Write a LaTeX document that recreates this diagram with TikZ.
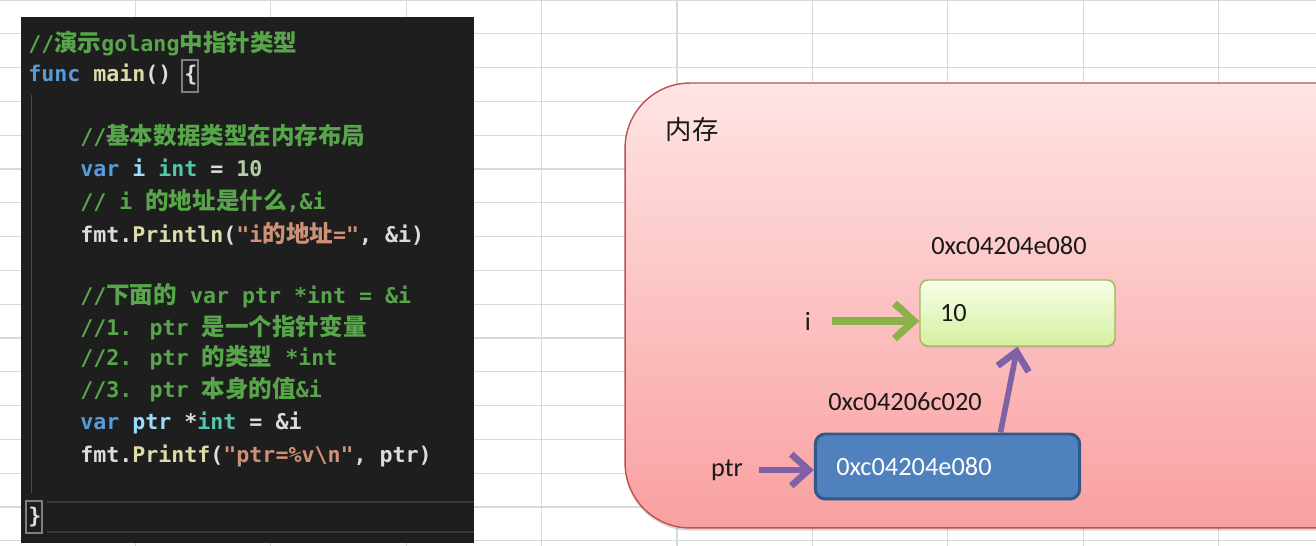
\documentclass[tikz,border=0pt]{standalone}
\usepackage{fontspec}
\usepackage{xcolor}
\usetikzlibrary{arrows.meta,positioning,shadows}

\newfontfamily\codefont{DejaVu Sans Mono}
\newfontfamily\cjk{Noto Sans CJK SC}
\newfontfamily\cali{Carlito}

\definecolor{codebg}{HTML}{1E1E1E}
\definecolor{codetxt}{HTML}{DCDCDC}
\definecolor{cmtgreen}{HTML}{57A64A}
\definecolor{kwblue}{HTML}{569CD6}
\definecolor{fnyellow}{HTML}{DCDCAA}
\definecolor{varblue}{HTML}{9CDCFE}
\definecolor{typeteal}{HTML}{4EC9B0}
\definecolor{numgreen}{HTML}{B5CEA8}
\definecolor{strorange}{HTML}{CE9178}
\definecolor{memtop}{HTML}{FFE4E4}
\definecolor{membot}{HTML}{F9A0A0}
\definecolor{memline}{HTML}{C0504D}
\definecolor{valtop}{HTML}{F7FFE8}
\definecolor{valbot}{HTML}{D5EFA0}
\definecolor{valline}{HTML}{9BBB59}
\definecolor{ptrfill}{HTML}{4F81BD}
\definecolor{ptrline}{HTML}{30598A}
\definecolor{arrgreen}{HTML}{8CB14A}
\definecolor{arrpurple}{HTML}{7F62A6}

% code colouring
\newcommand{\zh}[1]{{\cjk\fontsize{13.4}{14}\selectfont #1}}
\newcommand{\cmt}[1]{\textcolor{cmtgreen}{#1}}
\newcommand{\kw}[1]{\textcolor{kwblue}{#1}}
\newcommand{\fn}[1]{\textcolor{fnyellow}{#1}}
\newcommand{\vr}[1]{\textcolor{varblue}{#1}}
\newcommand{\ty}[1]{\textcolor{typeteal}{#1}}
\newcommand{\nm}[1]{\textcolor{numgreen}{#1}}
\newcommand{\st}[1]{\textcolor{strorange}{#1}}

\begin{document}
\begin{tikzpicture}[
    x=0.02cm, y=-0.02cm,
    gridline/.style={draw=black!15, line width=0.6pt},
    code/.style={anchor=base west, inner sep=0pt, text=codetxt,
      font=\codefont\bfseries\fontsize{12.3}{14}\selectfont},
    matchbox/.style={draw=black!50, line width=0.6pt},
    lbl/.style={font=\cali\fontsize{15}{18}\selectfont, text=black!90},
    valbox/.style={draw=valline, line width=0.8pt, rounded corners=0.16cm,
      top color=valtop, bottom color=valbot, minimum height=1.32cm,
      text width=3.1cm, inner xsep=0.4cm, align=left, lbl,
      drop shadow={shadow xshift=0.5pt, shadow yshift=-1.2pt, opacity=0.2}},
    ptrbox/.style={draw=ptrline, line width=1.7pt, rounded corners=0.2cm,
      fill=ptrfill, minimum height=1.3cm, text width=4.45cm, inner xsep=0.42cm,
      align=left, lbl, text=white,
      drop shadow={shadow xshift=0.5pt, shadow yshift=-1.2pt, opacity=0.2}},
    garrow/.style={draw=arrgreen, line width=4.2pt,
      -{Straight Barb[length=11pt, width=20pt, line width=4.2pt]}},
    parrow/.style={draw=arrpurple, line width=3.8pt,
      -{Straight Barb[length=10pt, width=18pt, line width=3.8pt]}}
  ]

  \useasboundingbox (0,0) rectangle (1316,546);
  \clip (0,0) rectangle (1316,546);
  \fill[white] (0,0) rectangle (1316,546);

  % spreadsheet grid
  \foreach \k in {1,...,9}
    \draw[gridline] (\k*135.4,0) -- (\k*135.4,546);
  \foreach \k in {0,...,16}
    \draw[gridline] (0,\k*33.8) -- (1316,\k*33.8);

  % Code panel
  \node[fill=codebg, minimum width=9.06cm, minimum height=10.52cm, inner sep=0pt] (panel) at (247.5,280) {};
  \draw[black!70, line width=0.5pt] (31,95) -- (31,493);
  \draw[black!78, line width=0.6pt] (47,502) -- (474,502);
  \draw[black!78, line width=0.6pt] (47,532) -- (474,532);
  \draw[matchbox] (182,60) rectangle (198,92);
  \draw[matchbox] (26,501) rectangle (42,533);

  \node[code] (c1) at (28,52) {\cmt{//\zh{演示}golang\zh{中指针类型}}};
  \node[code] (c2) at (28,82) {\kw{func} \fn{main}() \{};
  \node[code] (c3) at (80,145) {\cmt{//\zh{基本数据类型在内存布局}}};
  \node[code] (c4) at (80,177) {\kw{var} \vr{i} \ty{int} = \nm{10}};
  \node[code] (c5) at (80,210) {\cmt{// i \zh{的地址是什么},\&i}};
  \node[code] (c6) at (80,243) {fmt.\fn{Println}(\st{"i\zh{的地址}="}, \&i)};
  \node[code] (c7) at (80,304) {\cmt{//\zh{下面的} var ptr *int = \&i}};
  \node[code] (c8) at (80,336) {\cmt{//1. ptr \zh{是一个指针变量}}};
  \node[code] (c9) at (80,366) {\cmt{//2. ptr \zh{的类型} *int}};
  \node[code] (c10) at (80,398) {\cmt{//3. ptr \zh{本身的值}\&i}};
  \node[code] (c11) at (80,430) {\kw{var} \vr{ptr} *\ty{int} = \&i};
  \node[code] (c12) at (80,463) {fmt.\fn{Printf}(\st{"ptr=\%v\textbackslash n"}, ptr)};
  \node[code] (c13) at (28,524) {\}};

  % Memory area
  \node[draw=memline, line width=0.8pt, rounded corners=1.3cm, top color=memtop, bottom color=membot,
    minimum width=15.5cm, minimum height=8.9cm,
    drop shadow={shadow xshift=0pt, shadow yshift=-1.5pt, opacity=0.3}] (mem) at (1012.5,305.5) {};
  \node[lbl] (memlbl) at (692,130) {\cjk 内存};

  % variable i
  \node[valbox] (ibox) at (1017.5,313) {10};
  \node[lbl, above=0.36cm of ibox, xshift=-0.17cm] (iaddr) {0xc04204e080};
  \node[lbl] (ilbl) at (808,321) {i};

  % pointer ptr
  \node[ptrbox] (pbox) at (947.5,466.5) {0xc04204e080};
  \node[lbl, above=0.32cm of pbox, xshift=-0.85cm] (paddr) {0xc04206c020};
  \node[lbl] (plbl) at (727,470) {ptr};

  % Arrows
  \draw[garrow, shorten <=0.3cm] (ilbl.east) -- (ilbl.east -| ibox.west);
  \draw[parrow, shorten <=0.2cm] (plbl.east) -- (plbl.east -| pbox.west);
  \draw[parrow, line width=3.2pt] ([xshift=1.06cm]pbox.north) -- (ibox.south);

\end{tikzpicture}
\end{document}
